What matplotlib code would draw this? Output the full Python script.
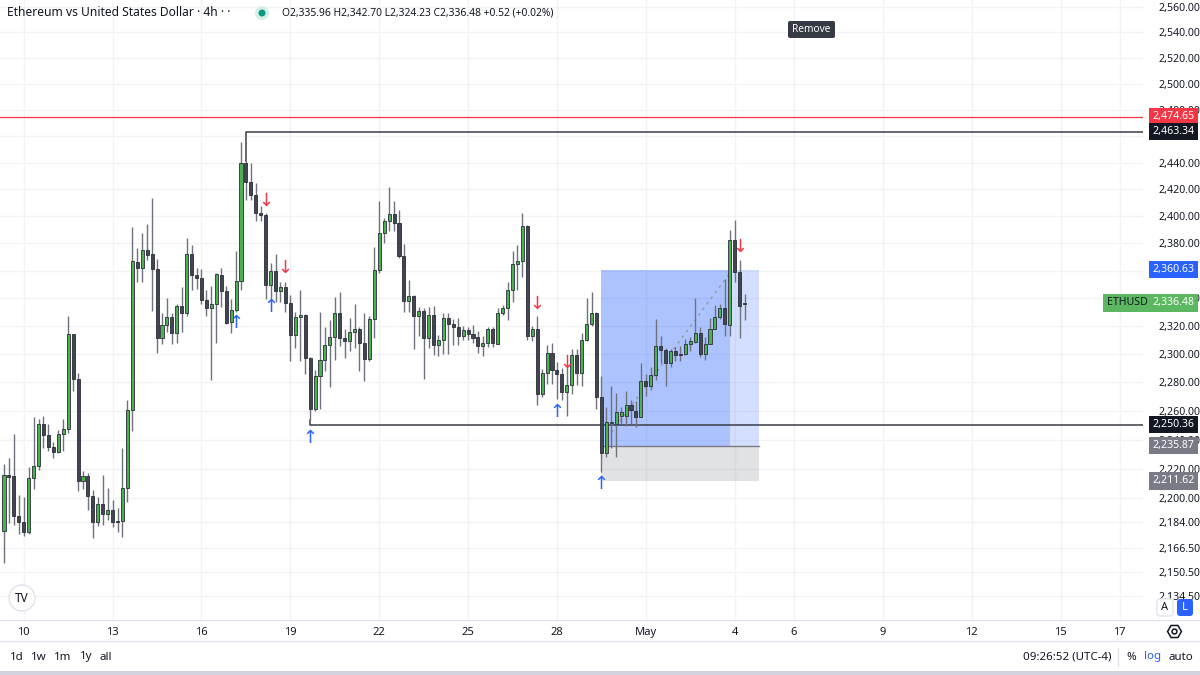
import numpy as np
import pandas as pd
import matplotlib
matplotlib.use("Agg")
import matplotlib.pyplot as plt
import matplotlib.dates as mdates
import matplotlib.transforms as mtransforms
from matplotlib.patches import FancyBboxPatch, Circle, Rectangle
from matplotlib.ticker import NullLocator, NullFormatter

plt.rcParams['font.family'] = ['Noto Sans', 'DejaVu Sans']

# ETHUSD 4h candles, 9 Apr 08:00 -> 4 May 08:00
opens = [2178, 2215.7, 2215.2, 2187.8, 2184, 2177, 2213.3, 2221.9, 2250.9, 2242.9,
         2235, 2231.2, 2243.8, 2247.4, 2314.1, 2282.6, 2211.5, 2215.2, 2201.4, 2184,
         2195.8, 2189.1, 2191.8, 2184.7, 2184.7, 2206.9, 2260.5, 2366.2, 2362.1, 2375.3,
         2371.9, 2361, 2311.2, 2320.5, 2326.3, 2314.9, 2334.5, 2329.2, 2372.3, 2356.6,
         2354.5, 2338.4, 2333.1, 2336, 2356.6, 2345.2, 2323, 2331.5, 2352.3, 2439.8,
         2425.4, 2416, 2402.5, 2400.8, 2349.5, 2359.8, 2344.8, 2347.9, 2336.7, 2313.6,
         2326.3, 2328, 2297.4, 2261.2, 2284.3, 2295.7, 2306.4, 2312.1, 2329, 2311.6,
         2309.3, 2316, 2317.7, 2308.1, 2296.2, 2325.3, 2360.2, 2387.7, 2396.3, 2401.3,
         2395, 2370.9, 2337.9, 2341.2, 2326.9, 2330.8, 2311.2, 2328.1, 2306.4, 2309.8,
         2325.7, 2321.6, 2319.5, 2312.9, 2317, 2314.1, 2312.1, 2305.7, 2308.1, 2317.7,
         2307.4, 2329.2, 2333.1, 2345.5, 2364.9, 2366.7, 2392.6, 2312.9, 2317.7, 2271.9,
         2286.6, 2300.9, 2288.4, 2285.5, 2273.3, 2277.9, 2299.3, 2286.6, 2309.8, 2321.6,
         2329.2, 2269.7, 2231.1, 2251.6, 2250.5, 2256.5, 2256.5, 2264.1, 2260, 2256,
         2280.7, 2277.1, 2284.8, 2305.7, 2302.6, 2293.6, 2302.1, 2299.8, 2299.8, 2306.9,
         2308.8, 2315.1, 2299.8, 2307.4, 2318.1, 2326.2, 2332.6, 2320.7, 2382.7, 2359.2,
         2335.96]
highs = [2223, 2227.6, 2244, 2201.9, 2201, 2221.4, 2256, 2254.5, 2256.4, 2250.5,
         2238.6, 2246.9, 2254.1, 2327.4, 2314.5, 2286.4, 2218.4, 2216.8, 2205.3, 2200.7,
         2215.6, 2206.9, 2198.5, 2192.9, 2234.5, 2267.6, 2391.9, 2376.1, 2387.2, 2394,
         2413.5, 2368.2, 2329.2, 2340, 2329.2, 2335.4, 2347.7, 2383.5, 2379, 2361.5,
         2361, 2345.5, 2349.1, 2358.5, 2361.5, 2349.1, 2339.5, 2374.1, 2455.6, 2441,
         2439.8, 2424.7, 2407.7, 2402, 2365.6, 2372, 2351.9, 2351.9, 2341.9, 2330.3,
         2346.2, 2328.5, 2297.9, 2288.4, 2330.3, 2318.9, 2324, 2340.7, 2344.3, 2317.7,
         2325.9, 2335.4, 2318.9, 2329.2, 2326.9, 2377, 2410.9, 2398.7, 2421.7, 2411.5,
         2404.4, 2379.5, 2352.9, 2341.9, 2333.8, 2332.6, 2333.8, 2334.5, 2313.6, 2329.2,
         2329.2, 2325.3, 2325.7, 2320, 2318.9, 2320.7, 2316.6, 2312.9, 2319.3, 2318.9,
         2332.6, 2335, 2351.4, 2374.1, 2378.5, 2402.5, 2393.3, 2320, 2326.9, 2289.1,
         2306.4, 2308.1, 2294.5, 2289.8, 2290.7, 2303.4, 2303.4, 2315.2, 2340, 2344.3,
         2330, 2284.3, 2262.4, 2277.1, 2272.6, 2262.9, 2273.8, 2267.6, 2266.7, 2293.8,
         2285.5, 2290.7, 2324.7, 2312.9, 2304.1, 2303.4, 2305, 2305.7, 2310.5, 2312.1,
         2340, 2318.9, 2312.1, 2325.7, 2335, 2336, 2353.8, 2389.4, 2396.8, 2367.9,
         2342.70]
lows = [2156.5, 2182.9, 2181.9, 2175.4, 2174.3, 2175.4, 2206, 2219, 2234, 2232.4,
        2227.4, 2230.5, 2231.9, 2244.5, 2274, 2204.6, 2206.4, 2191.8, 2173.2, 2180.8,
        2181.9, 2185.1, 2180.2, 2177, 2173.8, 2197.3, 2245.7, 2351.9, 2351.9, 2367.5,
        2330.8, 2300.9, 2306.9, 2316, 2306.9, 2308, 2315.4, 2326.9, 2345.5, 2346.6,
        2336, 2326.9, 2281.9, 2308, 2333.8, 2321.2, 2314.6, 2330.3, 2346.2, 2412.3,
        2412.3, 2396.3, 2396.3, 2339.5, 2339.5, 2337.2, 2337.2, 2329.7, 2295, 2304.1,
        2295, 2285.5, 2253.4, 2260, 2261.2, 2287.9, 2276.5, 2295.5, 2305.7, 2297.4,
        2302.1, 2304.5, 2287.9, 2281.2, 2295, 2311.2, 2358.5, 2380.2, 2388.9, 2388.9,
        2369.5, 2329.9, 2330.3, 2303.4, 2312.9, 2282.6, 2304.1, 2299.3, 2298.6, 2299.8,
        2299.8, 2306.4, 2306.4, 2309.8, 2309.8, 2308.1, 2300.9, 2298.6, 2305, 2305,
        2306.9, 2328, 2324, 2337.2, 2345.5, 2355, 2309.8, 2309.3, 2264.1, 2269.7,
        2278.8, 2278.8, 2268.1, 2267.4, 2256.4, 2271.9, 2278.4, 2277.1, 2309.3, 2320,
        2261.2, 2218, 2228.3, 2234, 2228.3, 2250.5, 2249.3, 2250.5, 2248.6, 2255.7,
        2270.4, 2274.8, 2281.9, 2293.8, 2277.1, 2290.7, 2295, 2295, 2299.3, 2302.1,
        2308.1, 2297.9, 2295.5, 2306.9, 2317.7, 2324.7, 2312.9, 2312.9, 2351.4, 2311.6,
        2324.23]
closes = [2215.7, 2214, 2187.8, 2184, 2177, 2213.3, 2221.9, 2250.9, 2242.9, 2234.7,
          2231.2, 2243.8, 2247.4, 2314.1, 2282.6, 2211.5, 2215.2, 2201.4, 2184, 2195.8,
          2189.1, 2191.8, 2184, 2183.5, 2206.9, 2260.5, 2366.7, 2362.1, 2375.3, 2371.4,
          2361, 2311.2, 2320.5, 2326.3, 2314.9, 2334.5, 2329.2, 2371.9, 2356.6, 2354.5,
          2338.4, 2333.1, 2336, 2357.3, 2344.8, 2322.3, 2331.5, 2352.3, 2439.8, 2425.4,
          2416, 2402.5, 2400.8, 2349.5, 2359.8, 2344.8, 2347.9, 2336.7, 2313.6, 2326.3,
          2328, 2297.4, 2261.2, 2284.3, 2295.7, 2306.4, 2312.1, 2329, 2311.6, 2309.3,
          2316, 2317.7, 2308.1, 2296.2, 2325.3, 2360.2, 2387.7, 2396.3, 2401.3, 2395,
          2370.9, 2337.9, 2341.2, 2326.9, 2330.8, 2311.2, 2328.1, 2306.4, 2309.8, 2325.7,
          2321.6, 2319.5, 2312.9, 2317, 2314.1, 2311.2, 2305.7, 2308.1, 2317.7, 2308.1,
          2329.2, 2333.1, 2345.5, 2364.9, 2366.7, 2392.6, 2312.9, 2317.7, 2271.9, 2286.6,
          2300.9, 2288.4, 2285.5, 2273.3, 2277.9, 2299.3, 2286.6, 2309.8, 2321.6, 2329.2,
          2269.7, 2231.1, 2252, 2252.4, 2258.9, 2258.9, 2264.1, 2260.5, 2256, 2280.7,
          2277.1, 2284.8, 2305.7, 2302.6, 2293.6, 2302.1, 2299.1, 2299.1, 2306.9, 2309.3,
          2315.1, 2299.8, 2307.4, 2318.1, 2326.2, 2332.6, 2321.2, 2382.7, 2359.2, 2334.3,
          2336.48]

price_ticks = [2560, 2540, 2520, 2500, 2480, 2460, 2440, 2420, 2400, 2380, 2360, 2340,
               2320, 2300, 2280, 2260, 2240, 2220, 2200, 2184, 2166.5, 2150.5, 2134.5]
hidden_ticks = [2460, 2360]   # fully covered by level labels on the scale
day_ticks = ['2024-04-10', '2024-04-13', '2024-04-16', '2024-04-19', '2024-04-22',
             '2024-04-25', '2024-04-28', '2024-05-01', '2024-05-04', '2024-05-06',
             '2024-05-09', '2024-05-12', '2024-05-15', '2024-05-17']
day_labels = ['10', '13', '16', '19', '22', '25', '28', 'May', '4', '6', '9', '12', '15', '17']

# drawn levels
red_level = 2474.65
high_level = 2463.34
low_level = 2250.36
target, entry, stop = 2360.63, 2235.87, 2211.62
last_price = 2336.48
up_arrows = [(47, 2322.3), (54, 2333.8), (62, 2240.9), (112, 2259.5), (121, 2209.4)]
down_arrows = [(53, 2411.5), (57, 2361.7), (108, 2336.0), (114, 2293.4), (149, 2377.1)]

opens = np.array(opens); highs = np.array(highs)
lows = np.array(lows); closes = np.array(closes)
times = pd.date_range('2024-04-09 08:00', periods=len(opens), freq='4h')
x = mdates.date2num(times)
step = 1 / 6

fig = plt.figure(figsize=(12, 6.75), dpi=100)
ax = fig.add_axes([0, 55 / 675, 1143 / 1200, 620 / 675])
ax.set_yscale('log')
ax.set_ylim(2118.7, 2565.5)
ax.set_xlim(x[0] - 0.81 * step, x[0] + 230.7 * step)
for s in ax.spines.values():
    s.set_visible(False)

ax.yaxis.set_minor_locator(NullLocator())
ax.yaxis.set_minor_formatter(NullFormatter())
ax.set_yticks(price_ticks)
ax.set_yticklabels(['' if p in hidden_ticks else f'{p:,.2f}' for p in price_ticks])
ax.yaxis.tick_right()
ax.tick_params(axis='y', length=0, pad=11, labelsize=7.6, labelcolor='#131722')

tick_x = mdates.date2num(pd.to_datetime(day_ticks))
ax.set_xticks(tick_x)
ax.set_xticklabels(day_labels)
ax.tick_params(axis='x', length=0, pad=5, labelsize=8, labelcolor='#131722')
for lbl in ax.get_xticklabels():
    if lbl.get_text() == 'May':
        lbl.set_fontweight('bold')
ax.grid(True, color='#f1f3f6', lw=1)
ax.set_axisbelow(True)

# long position tool (starts at entry candle, target hit 26 bars later)
i0, i_hit = 121, 147
x_start, x_hit, x_end = x[i0], x[i_hit], x[0] + 153 * step
ax.fill_between([x_start, x_hit], entry, target, color='#2962ff', alpha=0.38, lw=0, zorder=1.6)
ax.fill_between([x_hit, x_end], entry, target, color='#2962ff', alpha=0.2, lw=0, zorder=1.6)
ax.fill_between([x_start, x_end], stop, entry, color='#787b86', alpha=0.22, lw=0, zorder=1.6)
ax.plot([x_start, x_end], [entry, entry], color='#787b86', lw=1, zorder=2)
ax.plot([x_start + 1.2 * step, x_hit], [2241, 2358], color='#9598a1', lw=1,
        ls=(0, (2, 3)), zorder=2)

# horizontal levels
ax.axhline(red_level, color='#f23645', lw=0.9, zorder=2)
xr = ax.get_xlim()[1]
ax.plot([x[49], x[49], xr], [highs[49], high_level, high_level], color='#3a3d45', lw=1.1, zorder=2)
ax.plot([x[62], x[62], xr], [lows[62], low_level, low_level], color='#3a3d45', lw=1.1, zorder=2)

# candles
up = closes >= opens
body_lo = np.minimum(opens, closes)
body_hi = np.maximum(opens, closes)
ax.vlines(x, lows, highs, color='#6f727c', lw=1, zorder=3)
ax.bar(x, body_hi - body_lo, bottom=body_lo, width=0.62 * step,
       color=np.where(up, '#4caf50', '#434651'), edgecolor='#2a2e39',
       linewidth=0.6, zorder=4)

for i, p in up_arrows:
    ax.text(x[i], p, '↑', color='#2962ff', fontsize=13, ha='center', va='center',
            family=['DejaVu Sans'], zorder=5)
for i, p in down_arrows:
    ax.text(x[i], p, '↓', color='#f23645', fontsize=13, ha='center', va='center',
            family=['DejaVu Sans'], zorder=5)

# price-scale labels
lab_tr = mtransforms.blended_transform_factory(fig.transFigure, ax.transData)
def price_label(p, text, fc, tc='white', xc=1173.5):
    ax.text(xc / 1200, p, text, transform=lab_tr, ha='center', va='center',
            fontsize=7.6, color=tc, clip_on=False, zorder=20,
            bbox=dict(boxstyle='square,pad=0.3', fc=fc, ec='none'))

price_label(red_level, f'{red_level:,.2f}', '#f23645')
price_label(high_level, f'{high_level:,.2f}', '#131722')
price_label(target, f'{target:,.2f}', '#2962ff')
price_label(last_price, f'{last_price:,.2f}', '#5cb860')
price_label(last_price, 'ETHUSD', '#5cb860', tc='#131722', xc=1127)
price_label(low_level, f'{low_level:,.2f}', '#131722')
price_label(entry, f'{entry:,.2f}', '#787b86')
price_label(stop, f'{stop:,.2f}', '#787b86')

# interface chrome in pixel coordinates
ui = fig.add_axes([0, 0, 1, 1], zorder=10)
ui.set_xlim(0, 1200)
ui.set_ylim(675, 0)
ui.axis('off')
ui.patch.set_visible(False)

ui.text(7, 13, 'Ethereum vs United States Dollar · 4h · ·', fontsize=8.7,
        color='#131722', va='center', ha='left')
ui.add_patch(Circle((262, 13), 7, color='#d6efe9', lw=0))
ui.add_patch(Circle((262, 13), 3.5, color='#089981', lw=0))
ui.text(282, 13, 'O2,335.96 H2,342.70 L2,324.23 C2,336.48 +0.52 (+0.02%)',
        fontsize=7.4, color='#131722', va='center', ha='left')

ui.add_patch(FancyBboxPatch((788, 21), 47, 17, boxstyle='round,pad=0,rounding_size=2',
                            fc='#363a45', ec='none'))
ui.text(811.5, 29.5, 'Remove', fontsize=7.3, color='white', ha='center', va='center')

ui.add_patch(Circle((22, 598), 13, fc='white', ec='#e0e3eb', lw=1))
ui.text(22, 598, 'TV', fontsize=8.5, fontweight='heavy', color='#131722',
        ha='center', va='center')

ui.add_patch(FancyBboxPatch((1157, 599), 16, 17, boxstyle='round,pad=0,rounding_size=3',
                            fc='white', ec='#e0e3eb', lw=1))
ui.text(1165, 607.5, 'A', fontsize=8, color='#131722', ha='center', va='center')
ui.add_patch(FancyBboxPatch((1177, 599), 16, 17, boxstyle='round,pad=0,rounding_size=3',
                            fc='#2962ff', ec='none'))
ui.text(1185, 607.5, 'L', fontsize=8, color='white', ha='center', va='center')

ui.plot([0, 1200], [620, 620], color='#e0e3eb', lw=1)
ui.plot([0, 1200], [641, 641], color='#e0e3eb', lw=1)
ui.plot(1174, 631, marker='H', ms=10, mfc='none', mec='#131722', mew=1.1)
ui.plot(1174, 631, marker='o', ms=3.5, mfc='none', mec='#131722', mew=1.1)

for tx, t in [(17, '1d'), (39, '1w'), (63, '1m'), (86, '1y'), (106, 'all')]:
    ui.text(tx, 657, t, fontsize=8.3, color='#131722', ha='center', va='center')
ui.text(1067, 657, '09:26:52 (UTC-4)', fontsize=8.3, color='#131722', ha='center', va='center')
ui.plot([1118, 1118], [648, 666], color='#e0e3eb', lw=1)
ui.text(1131, 657, '%', fontsize=8.3, color='#131722', ha='center', va='center')
ui.text(1153, 657, 'log', fontsize=8.3, color='#2962ff', ha='center', va='center')
ui.text(1181, 657, 'auto', fontsize=8.3, color='#131722', ha='center', va='center')
ui.add_patch(Rectangle((0, 671), 1200, 4, color='#d1d4dc', lw=0))

fig.savefig('out.png', dpi=100, facecolor='white')
